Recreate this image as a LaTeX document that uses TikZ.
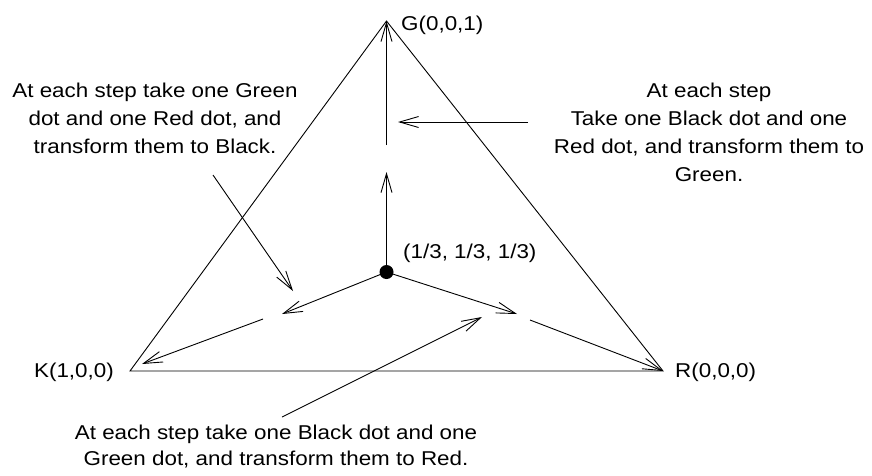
\documentclass[tikz,border=0pt]{standalone}
\usepackage{fontspec}
\setmainfont{Liberation Sans}[FakeStretch=1.12]
\usetikzlibrary{arrows.meta}
\begin{document}
\begin{tikzpicture}[x=1pt,y=-1pt,
  edge/.style={line width=0.9pt, black},
  arr/.style={edge, -{Straight Barb[length=19pt,width=11pt,line width=0.9pt]}},
  lbl/.style={inner sep=0pt, font=\fontsize{20}{28}\selectfont},
  blk/.style={lbl, align=center}]
\useasboundingbox (0,0) rectangle (872,475);
% corners
\coordinate (G) at (386.5,21);
\coordinate (K) at (130,371);
\coordinate (R) at (663,371);
\coordinate (C) at (386.5,272);
% triangle
\draw[edge, line join=miter] (K) -- (G) -- (R) -- cycle;
% flow arrows
\coordinate (u1) at (386.5,172);
\coordinate (u2) at (386.5,145);
\coordinate (l1) at (282,314);
\coordinate (l2) at (263,319);
\coordinate (l3) at (142,364);
\coordinate (r1) at (517,314);
\coordinate (r2) at (530,320);
\draw[arr] (C) -- (u1);
\draw[arr] (u2) -- (G);
\draw[arr] (C) -- (l1);
\draw[arr] (l2) -- (l3);
\draw[arr] (C) -- (r1);
\draw[arr] (r2) -- (R);
% centre dot
\fill (C) circle (7);
% labels
\node[lbl, anchor=base west] (gl) at (401,30) {G(0,0,1)};
\node[lbl, anchor=base east] (kl) at (114,377.5) {K(1,0,0)};
\node[lbl, anchor=base west] (rl) at (675,377.5) {R(0,0,0)};
\node[lbl, anchor=base west] (cl) at (403,258) {(1/3, 1/3, 1/3)};
% annotations
\node[blk, anchor=base] (tl) at (155,153) {At each step take one Green\\dot and one Red dot, and\\transform them to Black.};
\node[blk, anchor=base] (tr) at (709,181) {At each step\\Take one Black dot and one\\Red dot, and transform them to\\Green.};
\node[blk, anchor=base, font=\fontsize{20}{26}\selectfont] (bt) at (276,465) {At each step take one Black dot and one\\Green dot, and transform them to Red.};
% annotation arrows
\coordinate (a1s) at (528,122);
\coordinate (a1e) at (398,122);
\coordinate (a2s) at (213,175);
\coordinate (a2e) at (293,291);
\coordinate (a3s) at (282,417);
\coordinate (a3e) at (482,317);
\draw[arr] (a1s) -- (a1e);
\draw[arr] (a2s) -- (a2e);
\draw[arr] (a3s) -- (a3e);
\end{tikzpicture}
\end{document}
